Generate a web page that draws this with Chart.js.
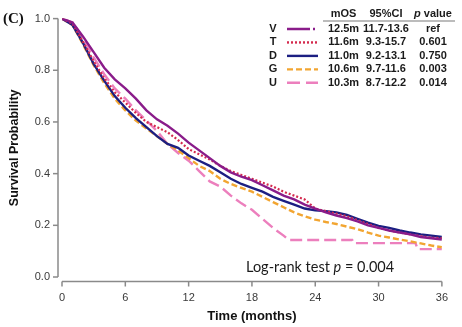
<!DOCTYPE html>
<html><head><meta charset="utf-8">
<script src="https://cdn.jsdelivr.net/npm/chart.js@4"></script>
<style>html,body{margin:0;padding:0;background:#fff;overflow:hidden}#wrap{width:462px;height:327px;position:relative}</style>
</head><body><div id="wrap"><canvas id="c" width="462" height="327"></canvas></div>
<script>
// ---------- data ----------
const months = [0,1,2,3,4,5,6,7,8,9,10,11,12,13,14,15,16,17,18,19,20,21,22,23,24,25,26,27,28,29,30,31,32,33,34,35,36];
const survV = [1,0.985,0.93,0.87,0.81,0.765,0.73,0.69,0.645,0.61,0.585,0.555,0.52,0.49,0.46,0.43,0.405,0.388,0.375,0.355,0.335,0.315,0.30,0.28,0.265,0.25,0.238,0.228,0.215,0.20,0.19,0.18,0.172,0.165,0.155,0.15,0.145];
const survT = [1,0.98,0.91,0.835,0.77,0.715,0.675,0.635,0.6,0.58,0.56,0.53,0.495,0.475,0.455,0.43,0.41,0.395,0.38,0.365,0.35,0.33,0.315,0.30,0.265,0.255,0.245,0.235,0.22,0.205,0.19,0.18,0.172,0.165,0.158,0.152,0.15];
const survD = [1,0.975,0.905,0.825,0.76,0.70,0.655,0.615,0.58,0.545,0.515,0.50,0.47,0.45,0.43,0.405,0.38,0.36,0.345,0.33,0.31,0.295,0.28,0.265,0.258,0.255,0.25,0.24,0.225,0.21,0.198,0.19,0.18,0.172,0.165,0.16,0.155];
const survG = [1,0.975,0.90,0.82,0.75,0.69,0.645,0.605,0.575,0.545,0.515,0.49,0.46,0.43,0.41,0.38,0.36,0.345,0.33,0.31,0.29,0.27,0.25,0.235,0.222,0.213,0.205,0.195,0.185,0.172,0.16,0.153,0.145,0.138,0.13,0.122,0.115];
const monthsU = [0,1,2,3,4,5,6,7,8,9,10,11,12,13,14,15,16,17,18,19,20,21,21.5,27.5,27.6,33.5,33.7,36];
const survU = [1,0.985,0.925,0.85,0.785,0.73,0.69,0.645,0.605,0.565,0.515,0.48,0.45,0.41,0.37,0.35,0.315,0.285,0.26,0.225,0.19,0.16,0.143,0.143,0.131,0.131,0.108,0.108];
const xTicks = [0,6,12,18,24,30,36];
const yTicks = [0,0.2,0.4,0.6,0.8,1.0];
const groups = ['V','T','D','G','U'];
const mOS = ['12.5m','11.6m','11.0m','10.6m','10.3m'];
const ci95 = ['11.7-13.6','9.3-15.7','9.2-13.1','9.7-11.6','8.7-12.2'];
const pVals = ['ref','0.601','0.750','0.003','0.014'];
const logRankP = '0.004';

// ---------- styles ----------
const colors = ['#8a1c8a','#d42a4e','#1c1f82','#f2a531','#ec7fbd'];
const dashes = [[],[2,2],[],[6,3],[12,5]];
const legendDashes = [[23,3,2,3],[2,2],[],[6,3],[13,6]];
const SANS = '"Liberation Sans", Arial, sans-serif';

function pts(xs, ys){ return xs.map((x,i)=>({x:x,y:ys[i]})); }
const seriesY = [survV,survT,survD,survG,survU];
const seriesX = [months,months,months,months,monthsU];
const datasets = groups.map((g,i)=>({
  label:g, data:pts(seriesX[i],seriesY[i]),
  borderColor:colors[i], borderWidth: i===1?2.2:2.4, borderDash:dashes[i],
  pointRadius:0, fill:false, tension:0
}));

const decor = {
  id:'decor',
  afterDraw(chart){
    const ctx = chart.ctx, xs = chart.scales.x, ys = chart.scales.y;
    const x0 = xs.getPixelForValue(0), x1 = xs.getPixelForValue(36);
    const y0 = ys.getPixelForValue(0), y1 = ys.getPixelForValue(1);
    ctx.save();
    // axes (offset R style)
    ctx.strokeStyle = '#8a8a8a'; ctx.lineWidth = 1.5;
    const ax = x0 - 4, ay = y0 + 4.5;
    ctx.beginPath(); ctx.moveTo(ax, y1); ctx.lineTo(ax, y0); ctx.stroke();
    yTicks.forEach(v=>{ const p = ys.getPixelForValue(v); ctx.beginPath(); ctx.moveTo(ax,p); ctx.lineTo(ax-5,p); ctx.stroke(); });
    ctx.beginPath(); ctx.moveTo(x0, ay); ctx.lineTo(x1, ay); ctx.stroke();
    xTicks.forEach(v=>{ const p = xs.getPixelForValue(v); ctx.beginPath(); ctx.moveTo(p,ay); ctx.lineTo(p,ay+5); ctx.stroke(); });

    // panel label
    ctx.fillStyle = '#111';
    ctx.font = 'bold 15px "Liberation Serif", "Times New Roman", serif';
    ctx.textAlign = 'left'; ctx.textBaseline = 'middle';
    ctx.fillText('(C)', 3, 19);

    // legend table
    ctx.font = 'bold 11px ' + SANS;
    ctx.fillStyle = '#1a1a1a';
    ctx.textAlign = 'center';
    const hy = 14;
    ctx.fillText('mOS', 343.5, hy);
    ctx.fillText('95%CI', 386, hy);
    const fB = 'bold 11px ' + SANS, fBI = 'italic bold 11px ' + SANS;
    ctx.font = fBI; const wp = ctx.measureText('p').width;
    ctx.font = fB; const wv = ctx.measureText(' value').width;
    let sx = 433 - (wp+wv)/2;
    ctx.textAlign = 'left';
    ctx.font = fBI; ctx.fillText('p', sx, hy);
    ctx.font = fB; ctx.fillText(' value', sx+wp, hy);
    ctx.strokeStyle = '#7a7a7a'; ctx.lineWidth = 1.2;
    ctx.beginPath(); ctx.moveTo(323, 21); ctx.lineTo(455, 21); ctx.stroke();
    groups.forEach((g,i)=>{
      const y = 29 + i*13.45;
      ctx.font = fB; ctx.fillStyle = '#1a1a1a'; ctx.textAlign = 'center';
      ctx.fillText(g, 273, y);
      ctx.fillText(mOS[i], 343.5, y);
      ctx.fillText(ci95[i], 386, y);
      ctx.fillText(pVals[i], 433, y);
      ctx.strokeStyle = colors[i]; ctx.lineWidth = 2.4; ctx.setLineDash(legendDashes[i]);
      ctx.beginPath(); ctx.moveTo(287, y); ctx.lineTo(318, y); ctx.stroke();
      ctx.setLineDash([]);
    });

    // log-rank text
    const fR = '14.5px Lato, ' + SANS, fI = 'italic 14.5px Lato, ' + SANS;
    ctx.fillStyle = '#1a1a1a'; ctx.textAlign = 'left';
    let tx = 246; const ty = 267;
    ctx.font = fR; ctx.fillText('Log-rank test ', tx, ty); tx += ctx.measureText('Log-rank test ').width;
    ctx.font = fI; ctx.fillText('p', tx, ty); tx += ctx.measureText('p').width;
    ctx.font = fR; ctx.fillText(' = ' + logRankP, tx, ty);
    ctx.restore();
  }
};

new Chart(document.getElementById('c'), {
  type:'line',
  data:{datasets:datasets},
  options:{
    responsive:false, animation:false, devicePixelRatio:1,
    layout:{padding:{left:0,right:8,top:11,bottom:0}},
    plugins:{legend:{display:false}, tooltip:{enabled:false}},
    scales:{
      x:{type:'linear', min:0, max:36,
         afterFit:s=>{s.height=50;},
         afterBuildTicks:s=>{s.ticks = xTicks.map(v=>({value:v}));},
         grid:{display:false, drawTicks:false}, border:{display:false},
         ticks:{padding:14, color:'#3a3a3a', font:{family:SANS,size:11}, maxRotation:0, autoSkip:false},
         title:{display:true, text:'Time (months)', color:'#111', font:{family:SANS,size:13,weight:'bold'}, padding:{top:0,bottom:2.5}}
      },
      y:{type:'linear', min:0, max:1,
         afterFit:s=>{s.width=62;},
         afterBuildTicks:s=>{s.ticks = yTicks.map(v=>({value:v}));},
         grid:{display:false, drawTicks:false}, border:{display:false},
         ticks:{padding:12, color:'#3a3a3a', font:{family:SANS,size:11}, callback:v=>Number(v).toFixed(1)},
         title:{display:true, text:'Survival Probability', color:'#111', font:{family:SANS,size:12.5,weight:'bold'}, padding:{top:7.5,bottom:0}}
      }
    }
  },
  plugins:[decor]
});
</script></body></html>
